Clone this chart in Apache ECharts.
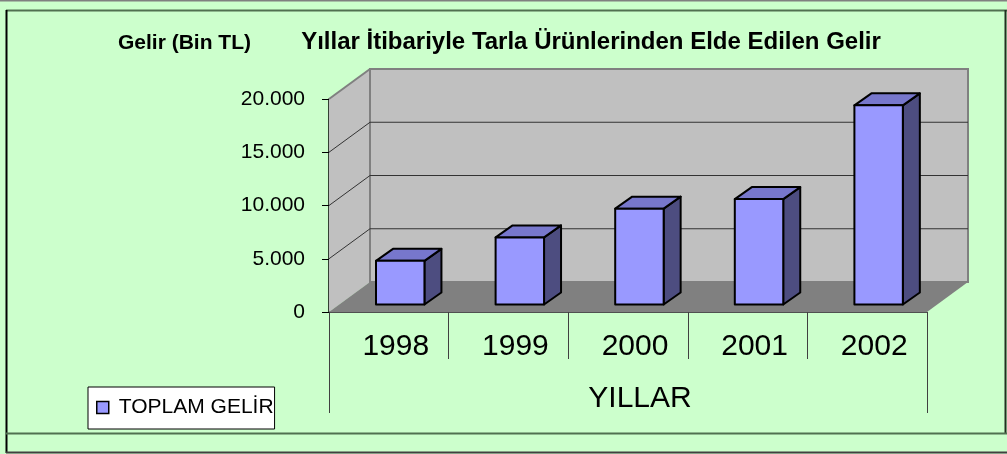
<!DOCTYPE html>
<html>
<head>
<meta charset="utf-8">
<title>Yıllar İtibariyle Tarla Ürünlerinden Elde Edilen Gelir</title>
<script src="https://cdn.jsdelivr.net/npm/echarts@6/dist/echarts.min.js"></script>
<style>
  html, body { margin: 0; padding: 0; background: #CCFFCC; }
  #chart { width: 1007px; height: 454px; }
</style>
</head>
<body>
<div id="chart"></div>
<script>
// veriler
const years = ['1998', '1999', '2000', '2001', '2002'];
const gelir = [4100, 6300, 9000, 9900, 18700];
const yTicks = [0, 5000, 10000, 15000, 20000];
const groupName = ['YILLAR'];
const seriesName = 'TOPLAM GELİR';

const FONT = '"Liberation Sans", Arial, sans-serif';
// 3B görünüm için derinlik kaydırmaları
const WALL_DX = 41, WALL_DY = -30;   // arka duvar
const BAR_FX = 0.393, BAR_W = 0.405; // bandın içinde ön yüz yeri / genişliği
const BAR_FY = -7.5;                 // ön yüzün tabana göre yüksekliği
const BAR_DX = 17, BAR_DY = -12;     // sütun derinliği

const chart = echarts.init(document.getElementById('chart'));

function fmt(v) {
  return String(v).replace(/\B(?=(\d{3})+(?!\d))/g, '.');
}

// duvarlar ve taban
function renderWalls(params, api) {
  const n = years.length;
  const band = api.size([1, 0])[0];
  const x0 = api.coord([0, 0])[0] - band / 2;
  const x1 = api.coord([n - 1, 0])[0] + band / 2;
  const y0 = api.coord([0, 0])[1];
  const yTop = api.coord([0, yTicks[yTicks.length - 1]])[1];
  const children = [];
  // sol duvar
  children.push({
    type: 'polygon',
    shape: { points: [[x0, yTop], [x0 + WALL_DX, yTop + WALL_DY], [x0 + WALL_DX, y0 + WALL_DY], [x0, y0]] },
    style: { fill: '#C0C0C0', stroke: null }
  });
  // arka duvar
  children.push({
    type: 'rect',
    shape: { x: x0 + WALL_DX, y: yTop + WALL_DY, width: x1 - x0, height: y0 - yTop },
    style: { fill: '#C0C0C0', stroke: '#808080', lineWidth: 2 }
  });
  // taban
  children.push({
    type: 'polygon',
    shape: { points: [[x0, y0], [x0 + WALL_DX, y0 + WALL_DY], [x1 + WALL_DX, y0 + WALL_DY], [x1, y0]] },
    style: { fill: '#808080', stroke: null }
  });
  // sol duvar üst kenarı
  children.push({
    type: 'line',
    shape: { x1: x0, y1: yTop, x2: x0 + WALL_DX, y2: yTop + WALL_DY },
    style: { stroke: '#808080', lineWidth: 2 }
  });
  // yatay çizgiler
  yTicks.slice(1, -1).forEach(t => {
    const y = api.coord([0, t])[1];
    children.push({
      type: 'polyline',
      shape: { points: [[x0, y], [x0 + WALL_DX, y + WALL_DY], [x1 + WALL_DX, y + WALL_DY]] },
      style: { stroke: '#333', lineWidth: 1, fill: null }
    });
  });
  return { type: 'group', children: children };
}

// 3B sütunlar
function renderBar(params, api) {
  const idx = api.value(0);
  const base = api.coord([idx, 0]);
  const top = api.coord([idx, api.value(1)]);
  const band = api.size([1, 0])[0];
  const x0 = base[0] - band / 2 + band * BAR_FX;
  const w = band * BAR_W;
  const yb = base[1] + BAR_FY;
  const yt = top[1] + BAR_FY;
  const line = { stroke: '#000', lineWidth: 2, lineJoin: 'round' };
  return {
    type: 'group',
    children: [
      {
        type: 'polygon',
        shape: { points: [[x0 + w, yt], [x0 + w + BAR_DX, yt + BAR_DY], [x0 + w + BAR_DX, yb + BAR_DY], [x0 + w, yb]] },
        style: Object.assign({ fill: '#4D4D80' }, line)
      },
      {
        type: 'polygon',
        shape: { points: [[x0, yt], [x0 + w, yt], [x0 + w + BAR_DX, yt + BAR_DY], [x0 + BAR_DX, yt + BAR_DY]] },
        style: Object.assign({ fill: '#7777CC' }, line)
      },
      {
        type: 'rect',
        shape: { x: x0, y: yt, width: w, height: yb - yt },
        style: Object.assign({ fill: '#9999FF' }, line)
      }
    ]
  };
}

const option = {
  backgroundColor: '#CCFFCC',
  animation: false,
  textStyle: { fontFamily: FONT },
  title: {
    text: 'Yıllar İtibariyle Tarla Ürünlerinden Elde Edilen Gelir',
    left: 591,
    textAlign: 'center',
    top: 30,
    padding: 0,
    textStyle: { fontSize: 24, fontWeight: 'bold', color: '#000', fontFamily: FONT }
  },
  legend: {
    data: [seriesName],
    left: 88,
    top: 387,
    orient: 'vertical',
    backgroundColor: '#fff',
    borderColor: '#000',
    borderWidth: 1,
    borderRadius: 0,
    padding: [10, 1, 11, 8],
    icon: 'rect',
    itemWidth: 12,
    itemHeight: 12,
    itemStyle: { color: '#9999FF', borderColor: '#000', borderWidth: 1.5 },
    textStyle: { fontSize: 21, color: '#000', fontFamily: FONT, padding: [0, 0, 0, 5] },
    selectedMode: false
  },
  grid: { left: 329, top: 99, width: 598, height: 213, containLabel: false },
  xAxis: [
    {
      type: 'category',
      data: years,
      position: 'bottom',
      offset: 0,
      axisLine: { show: true, lineStyle: { color: '#505050', width: 1 } },
      axisTick: { show: true, length: 47, alignWithLabel: false, interval: 0, lineStyle: { color: '#404040', width: 1 } },
      axisLabel: { fontSize: 30, color: '#000', margin: 20, padding: [0, 0, 0, 14], fontFamily: FONT },
      splitLine: { show: false }
    },
    {
      type: 'category',
      data: groupName,
      position: 'bottom',
      offset: 0,
      axisLine: { show: false },
      axisTick: { show: true, length: 101, alignWithLabel: false, interval: 0, lineStyle: { color: '#404040', width: 1 } },
      axisLabel: { fontSize: 30, color: '#000', margin: 72, padding: [0, 0, 0, 24], fontFamily: FONT },
      splitLine: { show: false }
    }
  ],
  yAxis: {
    type: 'value',
    min: 0,
    max: 20000,
    interval: 5000,
    name: 'Gelir (Bin TL)',
    nameLocation: 'end',
    nameGap: 56,
    nameTextStyle: {
      fontSize: 21, fontWeight: 'bold', color: '#000', fontFamily: FONT,
      align: 'right', verticalAlign: 'middle', padding: [0, 78, 0, 0]
    },
    axisLine: { show: true, lineStyle: { color: '#000', width: 1.5 } },
    axisTick: { show: true, length: 7, lineStyle: { color: '#000' } },
    axisLabel: { fontSize: 21, color: '#000', margin: 24, formatter: fmt, fontFamily: FONT },
    splitLine: { show: false }
  },
  series: [
    {
      type: 'custom',
      name: 'walls',
      renderItem: renderWalls,
      data: [[0, 0]],
      encode: { x: 0, y: 1 },
      clip: false,
      silent: true,
      z: 1
    },
    {
      type: 'custom',
      name: seriesName,
      renderItem: renderBar,
      data: gelir.map((v, i) => [i, v]),
      encode: { x: 0, y: 1 },
      itemStyle: { color: '#9999FF' },
      clip: false,
      z: 2
    }
  ],
  // çerçeve çizgileri
  graphic: [
    { type: 'line', shape: { x1: 0, y1: 0.5, x2: 1007, y2: 0.5 }, style: { stroke: '#808080', lineWidth: 2 } },
    { type: 'line', shape: { x1: 6, y1: 10.5, x2: 1007, y2: 10.5 }, style: { stroke: '#507050', lineWidth: 2 } },
    { type: 'line', shape: { x1: 6.5, y1: 10, x2: 6.5, y2: 453 }, style: { stroke: '#000', lineWidth: 2 } },
    { type: 'line', shape: { x1: 1005.5, y1: 10, x2: 1005.5, y2: 433 }, style: { stroke: '#203020', lineWidth: 2 } },
    { type: 'line', shape: { x1: 6, y1: 433.5, x2: 1007, y2: 433.5 }, style: { stroke: '#507050', lineWidth: 2 } },
    { type: 'line', shape: { x1: 6, y1: 452.5, x2: 1007, y2: 452.5 }, style: { stroke: '#404040', lineWidth: 2 } }
  ]
};

chart.setOption(option);
</script>
</body>
</html>
